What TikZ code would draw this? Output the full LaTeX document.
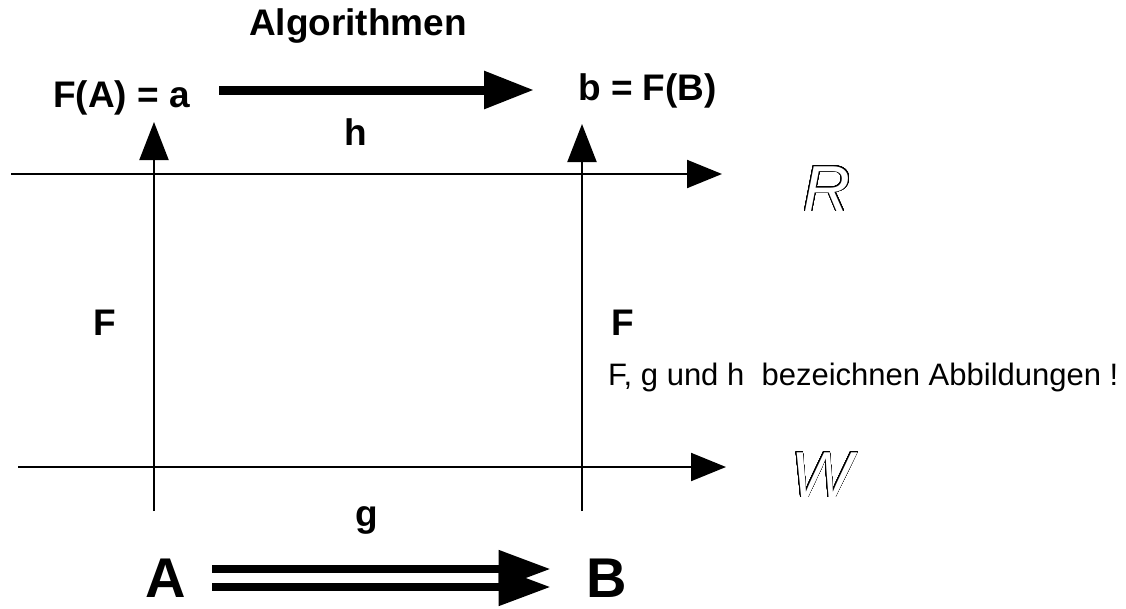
\documentclass[tikz,border=0pt]{standalone}
\usepackage{fontspec}
\setmainfont{Liberation Sans}
\usepackage[copies]{contour}
\contourlength{0.65pt}
\usetikzlibrary{arrows.meta}
\begin{document}
\begin{tikzpicture}[x=1pt,y=-1pt,
  lbl/.style={font=\fontsize{37}{42}\selectfont\bfseries, inner sep=0pt},
  big/.style={font=\fontsize{56}{62}\selectfont\bfseries, inner sep=0pt},
  note/.style={font=\fontsize{31}{36}\selectfont, inner sep=0pt},
  hollow/.style={font=\fontsize{65}{70}\selectfont\itshape, inner sep=0pt, text=white},
  axis/.style={line width=2pt, -{Triangle[length=35pt,width=28pt]}},
  up/.style={line width=2pt, -{Triangle[length=38pt,width=29pt]}},
  heavy/.style={line width=9pt, -{Triangle[length=50pt,width=36pt]}},
  twin/.style={line width=8pt, -{Triangle[length=52pt,width=36pt]}}]
\useasboundingbox (0,0) rectangle (1126,608);

% labels of the upper row
\node[lbl] (alg) at (358,26) {Algorithmen};
\node[lbl, anchor=base east] (Fa) at (190,107) {F(A) = a};
\node[lbl, anchor=base west] (Fb) at (578,100) {b = F(B)};
\node[lbl] (h) at (356,132) {h};

% the two axes
\coordinate (r0) at (11,174);
\coordinate (r1) at (722,174);
\coordinate (w0) at (18,467);
\coordinate (w1) at (726,467);
\draw[axis] (r0) -- (r1);
\draw[axis] (w0) -- (w1);
\node[hollow] (R) at (827,189) {\contour[48]{black}{R}};
\node[hollow] (W) at (822,475) {\contour[48]{black}{W}};

% vertical maps F
\coordinate (la) at (154,511);
\coordinate (lt) at (154,122);
\coordinate (ra) at (582,511);
\coordinate (rt) at (582,124);
\draw[up] (la) -- (lt);
\draw[up] (ra) -- (rt);
\node[lbl] (F1) at (105,323) {F};
\node[lbl] (F2) at (623,323) {F};
\node[note, anchor=west] (txt) at (608,377) {F, g und h\ \ bezeichnen Abbildungen !};

% map h on the top
\coordinate (h0) at (219,90);
\coordinate (h1) at (534,90);
\draw[heavy] (h0) -- (h1);

% bottom row: A, B and map g
\node[lbl] (g) at (367,520) {g};
\node[big] (A) at (166,578) {A};
\node[big] (B) at (607,578) {B};
\draw[twin] ([xshift=26pt,yshift=-9pt]A.east) -- ([xshift=-36pt,yshift=-9pt]B.west);
\draw[twin] ([xshift=26pt,yshift=9pt]A.east) -- ([xshift=-36pt,yshift=9pt]B.west);
\end{tikzpicture}
\end{document}
